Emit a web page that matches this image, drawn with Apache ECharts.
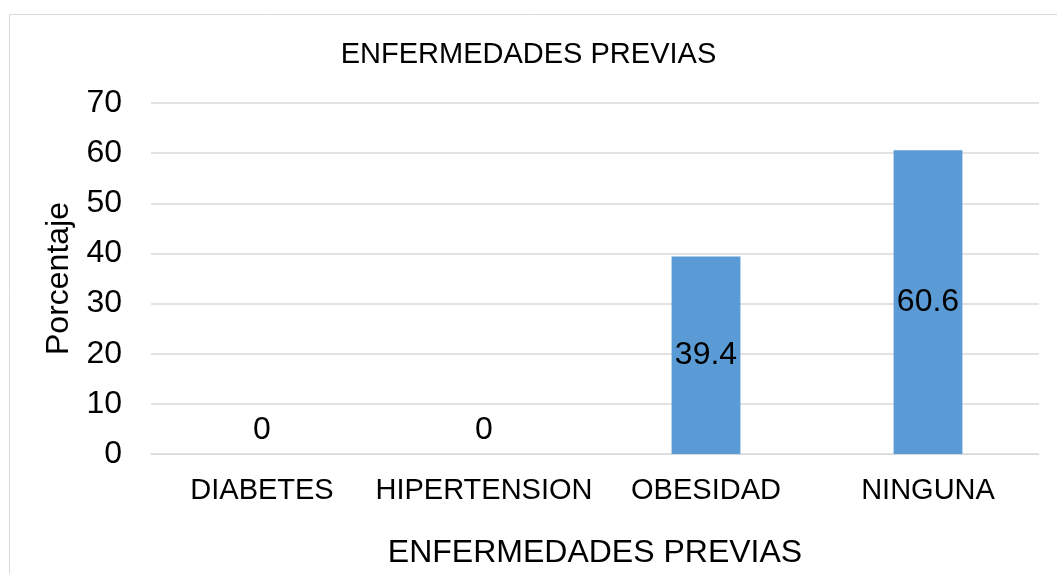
<!DOCTYPE html>
<html>
<head>
<meta charset="utf-8">
<script src="https://cdn.jsdelivr.net/npm/echarts@6/dist/echarts.min.js"></script>
<style>
  html, body { margin: 0; padding: 0; background: #fff; }
  #chart { width: 1057px; height: 574px; }
</style>
</head>
<body>
<div id="chart"></div>
<script>
const categories = ['DIABETES', 'HIPERTENSION', 'OBESIDAD', 'NINGUNA']
const values = [0, 0, 39.4, 60.6]
const yTicks = [0, 10, 20, 30, 40, 50, 60, 70]

const font = 'Liberation Sans, Arial, sans-serif'
const chart = echarts.init(document.getElementById('chart'))

chart.setOption({
  backgroundColor: '#fff',
  animation: false,
  title: {
    text: 'ENFERMEDADES PREVIAS',
    left: 'center',
    top: 35,
    textStyle: { fontFamily: font, fontSize: 29, fontWeight: 'normal', color: '#000' }
  },
  graphic: [{
    type: 'rect',
    shape: { x: 9.5, y: 14.5, width: 1100, height: 600 },
    style: { fill: 'none', stroke: '#d9d9d9', lineWidth: 1 },
    silent: true
  }],
  grid: { left: 151, right: 18, top: 103, bottom: 120, outerBoundsMode: 'none' },
  xAxis: {
    type: 'category',
    data: categories,
    name: 'ENFERMEDADES PREVIAS',
    nameLocation: 'middle',
    nameGap: 83,
    nameTextStyle: { fontFamily: font, fontSize: 32, color: '#000' },
    axisLine: { show: true, lineStyle: { color: '#d9d9d9', width: 1 } },
    axisTick: { show: false },
    axisLabel: { interval: 0, hideOverlap: false, fontFamily: font, fontSize: 29, color: '#000', margin: 22 }
  },
  yAxis: {
    type: 'value',
    min: yTicks[0],
    max: yTicks[yTicks.length - 1],
    interval: 10,
    name: 'Porcentaje',
    nameLocation: 'middle',
    nameGap: 72,
    nameTextStyle: { fontFamily: font, fontSize: 32, color: '#000' },
    axisLine: { show: false },
    axisTick: { show: false },
    axisLabel: { fontFamily: font, fontSize: 32, color: '#000', margin: 29 },
    splitLine: { lineStyle: { color: '#d9d9d9', width: 1.5 } }
  },
  series: [{
    type: 'bar',
    barWidth: '31%',
    itemStyle: { color: '#5b9bd5' },
    label: {
      show: true,
      position: 'inside',
      fontFamily: font,
      fontSize: 32,
      color: '#000'
    },
    data: values.map(v => v === 0
      ? { value: v, label: { position: 'top', distance: 8 } }
      : v)
  }]
})
</script>
</body>
</html>
